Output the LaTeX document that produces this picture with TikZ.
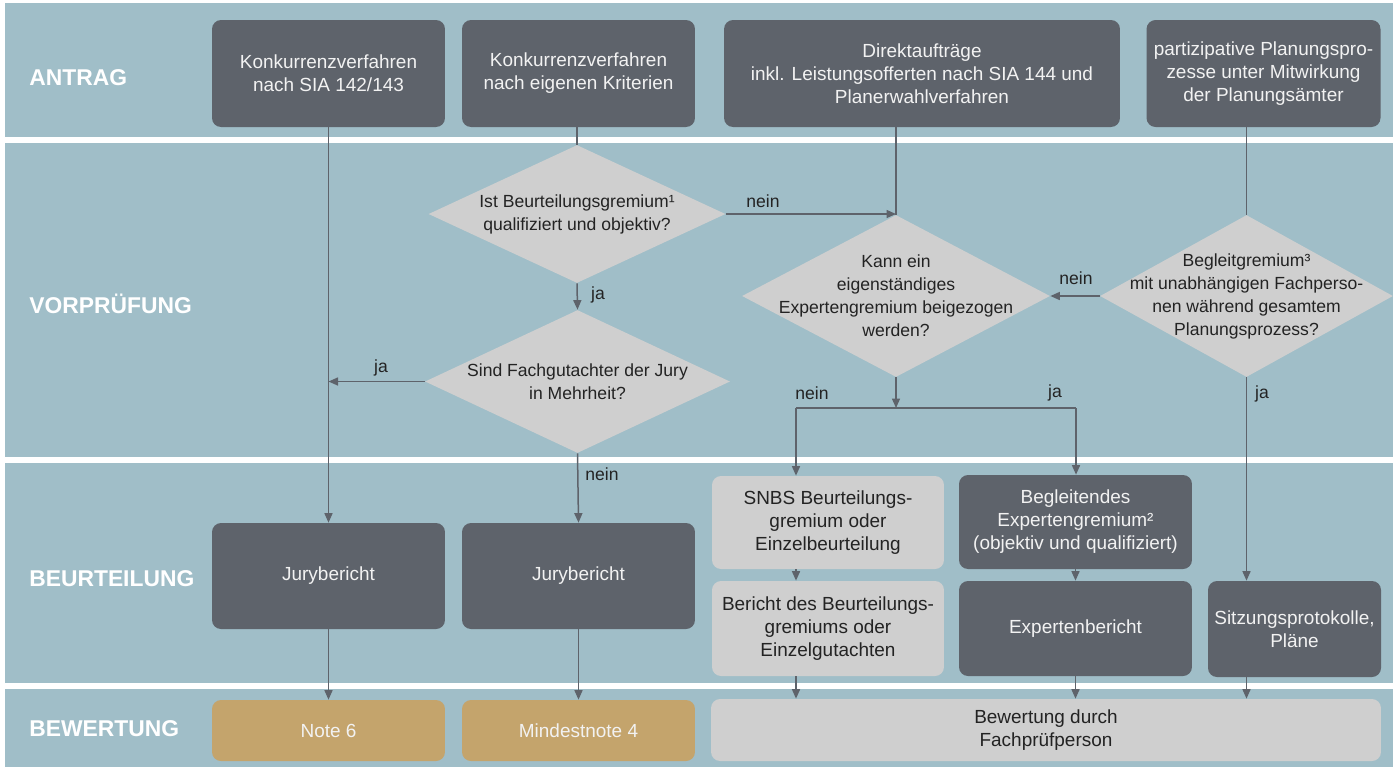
\documentclass[tikz,border=0pt]{standalone}
\usepackage{fontspec}
\setmainfont{Liberation Sans}
\usetikzlibrary{shapes.geometric, arrows.meta}

\definecolor{laneblue}{RGB}{160,190,200}
\definecolor{boxdark}{RGB}{94,99,107}
\definecolor{boxlight}{RGB}{207,207,207}
\definecolor{boxgold}{RGB}{196,164,108}
\definecolor{linegrey}{RGB}{94,99,107}
\definecolor{textdark}{RGB}{35,35,35}
\definecolor{textlight}{RGB}{242,242,242}

\newcommand{\boxfont}{\fontsize{10.8pt}{13.1pt}\selectfont}
\newcommand{\askfont}{\fontsize{10pt}{13.1pt}\selectfont}
\newcommand{\lanefont}{\fontsize{13pt}{15pt}\selectfont\bfseries}

\tikzstyle{lane} = [fill=laneblue]
\tikzstyle{lanelabel} = [anchor=west, inner sep=0, text=white, font=\lanefont]
\tikzstyle{stepbox} = [rectangle, rounded corners=0.18cm, align=center, inner sep=0, minimum width=4.66cm, font=\boxfont]
\tikzstyle{darkbox} = [stepbox, fill=boxdark, text=textlight]
\tikzstyle{lightbox} = [stepbox, fill=boxlight, text=textdark]
\tikzstyle{goldbox} = [stepbox, fill=boxgold, text=textlight, minimum height=1.22cm]
\tikzstyle{decision} = [diamond, fill=boxlight, inner sep=0]
\tikzstyle{asktext} = [align=center, text=textdark, font=\askfont]
\tikzstyle{answer} = [text=textdark, font=\askfont, inner sep=0]
\tikzstyle{flow} = [draw=linegrey, line width=0.03cm, -{Triangle[width=0.16cm, length=0.19cm]}]
\tikzstyle{plain} = [draw=linegrey, line width=0.03cm]

\begin{document}
\begin{tikzpicture}[x=0.02cm, y=-0.02cm]
  \fill[white] (0,0) rectangle (1398,769);
  \foreach \top/\bot in {3/137, 143/457, 463/683, 689/767} {
    \fill[lane] (5,\top) rectangle (1393,\bot);
  }
  \node[lanelabel] (antrag) at (29,78) {ANTRAG};
  \node[lanelabel] (vorpruefung) at (29,304) {VORPRÜFUNG};
  \node[lanelabel] (beurteilung) at (29,579) {BEURTEILUNG};
  \node[lanelabel] (bewertung) at (29,729) {BEWERTUNG};

  % Antrag
  \node[darkbox, minimum height=2.14cm] (konkSIA) at (328.5,73.5) {Konkurrenzverfahren\\nach SIA 142/143};
  \node[darkbox, minimum height=2.14cm] (konkEigen) at (578.5,73.5) {Konkurrenzverfahren\\nach eigenen Kriterien};
  \node[darkbox, minimum height=2.14cm, minimum width=7.92cm] (direkt) at (922,73.5) {Direktaufträge\\inkl. Leistungsofferten nach SIA 144 und\\Planerwahlverfahren};
  \node[darkbox, minimum height=2.14cm, minimum width=4.68cm] (partiz) at (1263.5,73.5) {partizipative Planungspro-\\zesse unter Mitwirkung\\der Planungsämter};

  % Vorpruefung
  \node[decision, minimum width=5.94cm, minimum height=2.76cm] (qualif) at (577,214) {};
  \node[asktext] (qualifText) at (qualif) {Ist Beurteilungsgremium¹\\qualifiziert und objektiv?};
  \node[decision, minimum width=6.1cm, minimum height=2.86cm] (mehrheit) at (577.5,381.5) {};
  \node[asktext] (mehrheitText) at (mehrheit) {Sind Fachgutachter der Jury\\in Mehrheit?};
  \node[decision, minimum width=6.16cm, minimum height=3.24cm] (experten) at (896,296) {};
  \node[asktext] (expertenText) at (experten) {Kann ein\\eigenständiges\\Expertengremium beigezogen\\werden?};
  \node[decision, minimum width=5.86cm, minimum height=3.24cm] (begleit) at (1246.5,296) {};
  \node[asktext] (begleitText) at (begleit) {Begleitgremium³\\mit unabhängigen Fachperso-\\nen während gesamtem\\Planungsprozess?};

  % Beurteilung
  \node[darkbox, minimum height=2.12cm] (jury1) at (328.5,576) {Jurybericht};
  \node[darkbox, minimum height=2.12cm] (jury2) at (578.5,576) {Jurybericht};
  \node[lightbox, minimum width=4.64cm, minimum height=1.86cm] (snbs) at (828,522.5) {SNBS Beurteilungs-\\gremium oder\\Einzelbeurteilung};
  \node[lightbox, minimum width=4.64cm, minimum height=1.9cm] (bericht) at (828,628.5) {Bericht des Beurteilungs-\\gremiums oder\\Einzelgutachten};
  \node[darkbox, minimum height=1.88cm] (begleitend) at (1075.5,522) {Begleitendes\\Expertengremium²\\(objektiv und qualifiziert)};
  \node[darkbox, minimum height=1.9cm] (expbericht) at (1075.5,628.5) {Expertenbericht};
  \node[darkbox, minimum width=3.46cm, minimum height=1.92cm] (protokoll) at (1294.5,629) {Sitzungsprotokolle,\\Pläne};

  % Bewertung
  \node[goldbox] (note6) at (328.5,730.5) {Note 6};
  \node[goldbox] (note4) at (578.5,730.5) {Mindestnote 4};
  \node[lightbox, minimum width=13.4cm, minimum height=1.24cm] (fachpruef) at (1046,730) {Bewertung durch\\Fachprüfperson};

  % connectors
  \draw[flow] (konkSIA) -- (jury1);
  \draw[plain] (konkEigen.south -| qualif.north) -- (qualif.north);
  \draw[plain] (direkt.south -| experten.north) -- (experten.north);
  \draw[plain] (partiz.south -| begleit.north) -- (begleit.north);
  \draw[flow] (qualif.east) -- (qualif.east -| experten.north);
  \draw[flow] (qualif.south) -- (mehrheit.north);
  \draw[flow] (mehrheit.west) -- (mehrheit.west -| jury1.north);
  \draw[flow] (mehrheit.south) -- (jury2.north);
  \draw[flow] (begleit.west) -- (experten.east);
  \draw[flow] (begleit.south) -- (begleit.south |- protokoll.north);

  \coordinate (split) at (896,408);
  \coordinate (splitL) at (796,408);
  \coordinate (splitR) at (1076,408);
  \draw[flow] (experten.south) -- (split);
  \draw[plain] (splitL) -- (splitR);
  \draw[flow] (splitL) -- (splitL |- snbs.north);
  \draw[flow] (splitR) -- (splitR |- begleitend.north);
  \draw[flow] (snbs.south -| splitL) -- (bericht.north -| splitL);
  \draw[flow] (begleitend) -- (expbericht);

  \foreach \src/\dst in {jury1/note6, jury2/note4} {
    \draw[flow] (\src) -- (\dst);
  }
  \draw[flow] (bericht.south -| splitL) -- (fachpruef.north -| splitL);
  \draw[flow] (expbericht.south) -- (fachpruef.north -| expbericht.south);
  \draw[flow] (protokoll.south -| begleit.south) -- (fachpruef.north -| begleit.south);

  % answers
  \node[answer] (neinQualif) at (763,201) {nein};
  \node[answer] (jaQualif) at (598,295) {ja};
  \node[answer] (jaMehrheit) at (381,368) {ja};
  \node[answer] (neinMehrheit) at (602,474) {nein};
  \node[answer] (neinBegleit) at (1076,278) {nein};
  \node[answer] (neinExperten) at (812,393) {nein};
  \node[answer] (jaExperten) at (1055,393) {ja};
  \node[answer] (jaBegleit) at (1262,394) {ja};
\end{tikzpicture}
\end{document}
